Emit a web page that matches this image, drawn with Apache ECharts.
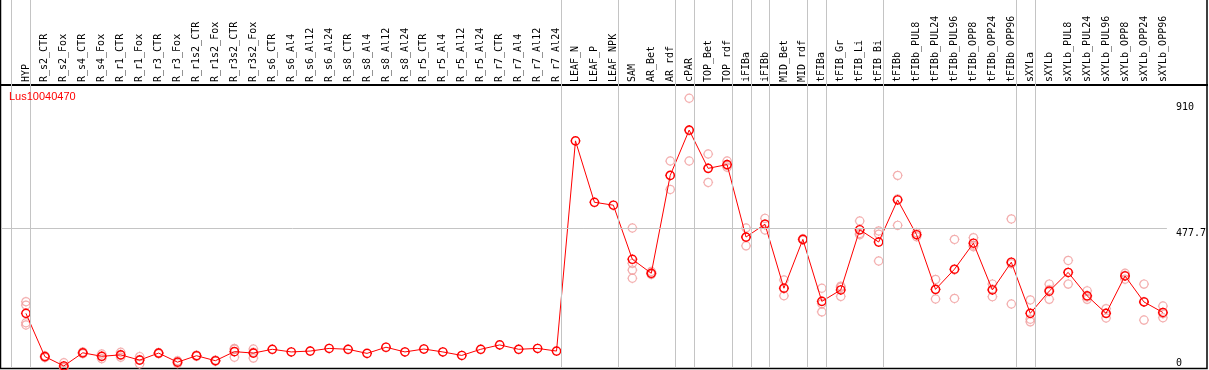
<!DOCTYPE html>
<html><head><meta charset="utf-8">
<script src="https://cdn.jsdelivr.net/npm/echarts@6/dist/echarts.min.js"></script>
<style>html,body{margin:0;padding:0;background:#fff}#c{width:1209px;height:370px}</style>
</head><body><div id="c"></div>
<script>
const geneName = 'Lus10040470';
const categories = ['HYP','R_s2_CTR','R_s2_Fox','R_s4_CTR','R_s4_Fox','R_r1_CTR','R_r1_Fox','R_r3_CTR','R_r3_Fox','R_r1s2_CTR','R_r1s2_Fox','R_r3s2_CTR','R_r3s2_Fox','R_s6_CTR','R_s6_Al4','R_s6_Al12','R_s6_Al24','R_s8_CTR','R_s8_Al4','R_s8_Al12','R_s8_Al24','R_r5_CTR','R_r5_Al4','R_r5_Al12','R_r5_Al24','R_r7_CTR','R_r7_Al4','R_r7_Al12','R_r7_Al24','LEAF_N','LEAF_P','LEAF_NPK','SAM','AR_Bet','AR_rdf','cPAR','TOP_Bet','TOP_rdf','iFIBa','iFIBb','MID_Bet','MID_rdf','tFIBa','tFIB_Gr','tFIB_Li','tFIB_Bi','tFIBb','tFIBb_PUL8','tFIBb_PUL24','tFIBb_PUL96','tFIBb_OPP8','tFIBb_OPP24','tFIBb_OPP96','sXYLa','sXYLb','sXYLb_PUL8','sXYLb_PUL24','sXYLb_PUL96','sXYLb_OPP8','sXYLb_OPP24','sXYLb_OPP96'];
const means = [187,39,7,52,40,45,27,51,20,42,25,56,51,64,55,58,67,64,50,71,55,65,55,43,64,79,64,67,58,777,567,557,372,324,659,814,683,696,448,492,273,440,228,267,473,431,575,456,269,338,427,267,362,187,263,327,247,187,315,226,190];
const repA = [227,42,18,55,48,54,39,53,25,44,27,67,65,null,null,null,null,null,null,null,null,null,null,null,null,null,null,null,null,null,null,null,479,330,708,923,732,708,479,512,301,442,273,280,503,469,659,463,303,440,446,287,510,233,287,368,264,203,324,287,212];
const repB = [215,37,3,51,40,44,28,50,20,42,25,64,54,null,null,null,null,null,null,null,null,null,null,null,null,null,null,null,null,null,null,null,358,322,659,812,683,693,447,492,272,440,220,276,460,458,578,456,268,336,420,270,357,167,268,327,243,187,317,227,186];
const repC = [155,36,1,49,32,37,14,49,15,40,23,37,34,null,null,null,null,null,null,null,null,null,null,null,null,null,null,null,null,null,null,null,335,320,611,708,635,687,418,472,247,438,192,245,456,366,488,449,236,238,415,244,219,158,235,287,235,171,304,164,172];
const repD = [147,null,null,null,null,null,null,null,null,null,null,null,null,null,null,null,null,null,null,null,null,null,null,null,null,null,null,null,null,null,null,null,307,null,null,null,null,null,null,null,null,null,null,null,null,null,null,null,null,null,null,null,null,null,null,null,null,null,null,null,null];
const groupEnds = [-1,0,28,31,34,35,37,38,39,41,42,45,52,53,60];
const refLine = 477.7;
const topTicks = [477.7, 910];
const bottomTicks = [0];

const marker = 'path://M3,12C3,7.029,7.029,3,12,3C16.971,3,21,7.029,21,12C21,16.971,16.971,21,12,21C7.029,21,3,16.971,3,12ZM12,1L12,3M12,21L12,23M1,12L3,12M21,12L23,12';
const monoFont = 'DejaVu Sans Mono';

const meanData = means.map((v, i) => [i, v]);
const repData = [];
[repA, repB, repC, repD].forEach(arr => arr.forEach((v, i) => { if (v != null) repData.push([i, v]); }));

const chart = echarts.init(document.getElementById('c'), null, {renderer: 'canvas'});
const yAxisBase = {
  type: 'value', min: 0, max: 1259, position: 'right',
  axisLine: {show: false}, axisTick: {show: false}, splitLine: {show: false}
};
chart.setOption({
  animation: false,
  backgroundColor: '#fff',
  title: {text: geneName, left: 9, top: 91, padding: 0, textStyle: {color: '#ff0000', fontSize: 11, fontWeight: 'normal', fontFamily: 'Liberation Sans'}},
  grid: {left: 1, right: 39, top: 0, bottom: 2, containLabel: false},
  xAxis: {
    type: 'value', min: -25 / 19, max: 1144 / 19, position: 'top', offset: -85,
    axisLine: {show: false}, axisTick: {show: false}, splitLine: {show: false},
    axisLabel: {
      customValues: categories.map((_, i) => i),
      formatter: v => categories[Math.round(v)],
      rotate: 90, margin: 3, fontFamily: monoFont, fontSize: 10, color: '#000', hideOverlap: false
    }
  },
  yAxis: [
    Object.assign({}, yAxisBase, {axisLabel: {customValues: topTicks, verticalAlign: 'top', margin: 9, fontFamily: monoFont, fontSize: 10, color: '#000', formatter: v => String(v)}}),
    Object.assign({}, yAxisBase, {axisLabel: {customValues: bottomTicks, verticalAlign: 'bottom', margin: 9, fontFamily: monoFont, fontSize: 10, color: '#000', formatter: v => String(v)}})
  ],
  graphic: [
    {type: 'rect', silent: true, shape: {x: 0.5, y: -2, width: 1206.5, height: 370.5}, style: {fill: 'none', stroke: '#000', lineWidth: 1.5}},
    {type: 'line', silent: true, shape: {x1: 0, y1: 85, x2: 1208, y2: 85}, style: {stroke: '#000', lineWidth: 2}}
  ],
  series: [
    {
      type: 'scatter', data: repData, symbol: marker, symbolSize: 10, symbolKeepAspect: true,
      itemStyle: {color: 'rgba(255,255,255,0)', borderColor: '#f09a9a', borderWidth: 1.2},
      emphasis: {disabled: true}, z: 2,
      markLine: {
        silent: true, symbol: 'none', label: {show: false}, animation: false,
        lineStyle: {color: '#c4c4c4', type: 'solid', width: 1},
        data: groupEnds.map(b => ({xAxis: b + 0.25})).concat([{yAxis: refLine}])
      }
    },
    {
      type: 'line', data: meanData, symbol: marker, symbolSize: 10, symbolKeepAspect: true, showSymbol: true,
      lineStyle: {color: '#ff0000', width: 1},
      itemStyle: {color: 'rgba(255,255,255,0)', borderColor: '#ff0000', borderWidth: 1.4},
      emphasis: {disabled: true}, z: 3
    }
  ]
});
</script>
</body></html>
